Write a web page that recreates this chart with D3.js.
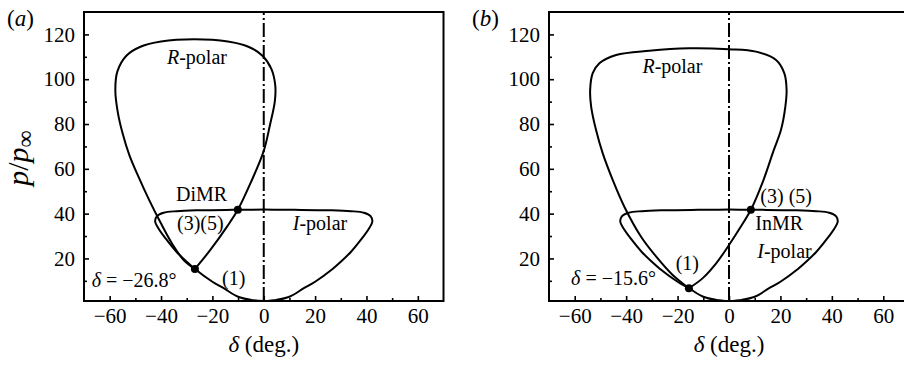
<!DOCTYPE html>
<html>
<head>
<meta charset="utf-8">
<script src="https://cdn.jsdelivr.net/npm/d3@7"></script>
<style>
  html, body { margin: 0; padding: 0; background: #fff; }
  svg { display: block; }
  text { font-family: "Liberation Serif", "Times New Roman", serif; fill: #000; }
</style>
</head>
<body>
<svg id="chart" width="904" height="365"></svg>
<script>
// Axis ticks
const deltaTicks = [-60, -40, -20, 0, 20, 40, 60];
const deltaMinorTicks = [-50, -30, -10, 10, 30, 50];
const pTicks = [20, 40, 60, 80, 100, 120];
const pMinorTicks = [10, 30, 50, 70, 90, 110];

// Incident-shock polar (delta in deg, p/p_inf), traced from the bottom, right lobe, top, left lobe
const iPolar = [
  [0, 1], [5, 1.5], [10, 2.9], [15.6, 6.7], [20, 9.6], [26.8, 15.3], [30, 18.5], [34, 23],
  [38, 28.6], [41, 33.4], [42.3, 36.5], [41.6, 38.9], [39, 40.4], [34, 41.1], [25, 41.5],
  [12, 41.7], [0, 41.8], [-12, 41.7], [-25, 41.5], [-34, 41.1], [-39, 40.4], [-41.6, 38.9],
  [-42.3, 36.5], [-41, 33.4], [-38, 28.6], [-34, 23], [-30, 18.5], [-26.8, 15.3], [-20, 9.6],
  [-15.6, 6.7], [-10, 2.9], [-5, 1.5], [0, 1]
];

// Reflected-shock polar for panel (a), starting and ending at state (1)
const rPolarA = [
  [-26.8, 15.3], [-20.8, 23.8], [-14.3, 34.2], [-10.1, 41.7], [-5.2, 53.5], [0, 68], [2.5, 80],
  [4.3, 90], [4.5, 97], [3, 104.5], [-0.5, 110.5], [-6, 114.5], [-14, 116.8], [-27, 117.8],
  [-40, 116.8], [-48, 114.5], [-53.5, 110.5], [-57, 103.5], [-57.8, 95], [-56.8, 85],
  [-55, 76], [-52.3, 66], [-48.8, 56.5], [-44.6, 46], [-40.2, 36], [-35.8, 26.8],
  [-31.2, 19.3], [-26.8, 15.3]
];

// Reflected-shock polar for panel (b)
const rPolarB = [
  [-15.6, 6.7], [-10.3, 11.1], [-5, 17.8], [0, 26], [4.5, 34], [8.5, 41.7], [13.4, 55],
  [17.3, 68], [20.2, 77.3], [21.9, 87.7], [22.4, 95.2], [21.5, 102.7], [18.3, 108.6],
  [10.5, 112.3], [0, 113.4], [-15.6, 113.8], [-31, 112.7], [-43.9, 110.8], [-50.4, 107.1],
  [-53, 102.7], [-54, 95.2], [-53.6, 87.7], [-51.7, 77.3], [-49.1, 66.9], [-45.2, 55],
  [-40.7, 43.1], [-34.2, 29.7], [-28.3, 20.8], [-21.9, 12.6], [-15.6, 6.7]
];

// Marked states
const pointsA = [[-26.8, 15.3], [-10.1, 41.7]];
const pointsB = [[-15.6, 6.7], [8.5, 41.7]];

const panels = [
  {
    tag: "a", x0: 84, x1: 443.5, rPolar: rPolarA, points: pointsA,
    labels: [
      { d: -26, p: 106.8, anchor: "middle", parts: [["R", true], ["-polar", false]] },
      { d: -24.2, p: 45.6, anchor: "middle", parts: [["DiMR", false]] },
      { d: -24.7, p: 32.7, anchor: "middle", parts: [["(3)(5)", false]] },
      { d: -67, p: 7.3, anchor: "start", parts: [["δ", true], [" = −26.8°", false]] },
      { d: -11.7, p: 8.1, anchor: "middle", parts: [["(1)", false]] },
      { d: 11.3, p: 32.7, anchor: "start", parts: [["I", true], ["-polar", false]] }
    ]
  },
  {
    tag: "b", x0: 549, x1: 909, rPolar: rPolarB, points: pointsB,
    labels: [
      { d: -22, p: 102.7, anchor: "middle", parts: [["R", true], ["-polar", false]] },
      { d: -16.2, p: 14.8, anchor: "middle", parts: [["(1)", false]] },
      { d: -61.4, p: 8.1, anchor: "start", parts: [["δ", true], [" = −15.6°", false]] },
      { d: 12.2, p: 44.8, anchor: "start", parts: [["(3) (5)", false]] },
      { d: 10.2, p: 32.7, anchor: "start", parts: [["InMR", false]] },
      { d: 11, p: 20.2, anchor: "start", parts: [["I", true], ["-polar", false]] }
    ]
  }
];

const svg = d3.select("#chart");
svg.append("rect").attr("width", 904).attr("height", 365).attr("fill", "#fff");

const yTop = 12, yBottom = 301;
const fmt = d => (d < 0 ? "\u2212" + Math.abs(d) : String(d));

panels.forEach(pn => {
  const x = d3.scaleLinear().domain([-70, 70]).range([pn.x0, pn.x1]);
  const y = d3.scaleLinear().domain([1, 130]).range([yBottom, yTop]);
  const g = svg.append("g");

  // Frame
  g.append("rect")
    .attr("x", pn.x0).attr("y", yTop)
    .attr("width", pn.x1 - pn.x0).attr("height", yBottom - yTop)
    .attr("fill", "none").attr("stroke", "#000").attr("stroke-width", 2);

  // Bottom axis: inward ticks
  const xAxis = d3.axisBottom(x).tickValues(deltaTicks).tickFormat(fmt)
    .tickSizeInner(-5).tickSizeOuter(0).tickPadding(7);
  const gx = g.append("g").attr("transform", `translate(0,${yBottom})`).call(xAxis);
  gx.select(".domain").remove();
  gx.selectAll(".tick line").attr("stroke-width", 1.6);
  gx.selectAll(".tick text").attr("font-size", 21).attr("font-family", "Liberation Serif");
  g.append("g").attr("transform", `translate(0,${yBottom})`)
    .call(d3.axisBottom(x).tickValues(deltaMinorTicks).tickFormat("").tickSizeInner(-3).tickSizeOuter(0))
    .call(s => s.select(".domain").remove())
    .selectAll(".tick line").attr("stroke-width", 1.6);

  // Left axis: inward ticks
  const yAxis = d3.axisLeft(y).tickValues(pTicks).tickFormat(d3.format("d"))
    .tickSizeInner(-5).tickSizeOuter(0).tickPadding(9);
  const gy = g.append("g").attr("transform", `translate(${pn.x0},0)`).call(yAxis);
  gy.select(".domain").remove();
  gy.selectAll(".tick line").attr("stroke-width", 1.6);
  gy.selectAll(".tick text").attr("font-size", 21).attr("font-family", "Liberation Serif");
  g.append("g").attr("transform", `translate(${pn.x0},0)`)
    .call(d3.axisLeft(y).tickValues(pMinorTicks).tickFormat("").tickSizeInner(-3).tickSizeOuter(0))
    .call(s => s.select(".domain").remove())
    .selectAll(".tick line").attr("stroke-width", 1.6);

  // Zero-deflection dash-dot line
  g.append("line")
    .attr("x1", x(0)).attr("x2", x(0)).attr("y1", yBottom).attr("y2", yTop)
    .attr("stroke", "#000").attr("stroke-width", 2)
    .attr("stroke-dasharray", "14,3,2,3");

  const line = d3.line().x(d => x(d[0])).y(d => y(d[1])).curve(d3.curveCatmullRom.alpha(0.5));

  g.append("path").attr("d", line(iPolar))
    .attr("fill", "none").attr("stroke", "#000").attr("stroke-width", 2);
  g.append("path").attr("d", line(pn.rPolar))
    .attr("fill", "none").attr("stroke", "#000").attr("stroke-width", 2);

  g.selectAll("circle.state").data(pn.points).join("circle")
    .attr("class", "state")
    .attr("cx", d => x(d[0])).attr("cy", d => y(d[1])).attr("r", 4).attr("fill", "#000");

  // Annotations
  pn.labels.forEach(lb => {
    const t = g.append("text")
      .attr("x", x(lb.d)).attr("y", y(lb.p))
      .attr("text-anchor", lb.anchor).attr("font-size", 20);
    lb.parts.forEach(([s, it]) => {
      t.append("tspan").text(s).attr("font-style", it ? "italic" : "normal");
    });
  });

  // Axis title
  const xt = g.append("text")
    .attr("x", x(0)).attr("y", 352).attr("text-anchor", "middle").attr("font-size", 23);
  xt.append("tspan").text("δ").attr("font-style", "italic");
  xt.append("tspan").text(" (deg.)");

  // Panel tag
  const tg = svg.append("text").attr("x", pn.x0 - 77).attr("y", 26).attr("font-size", 23);
  tg.append("tspan").text("(");
  tg.append("tspan").text(pn.tag).attr("font-style", "italic");
  tg.append("tspan").text(")");
});

// Vertical axis title for panel (a)
const yl = svg.append("text")
  .attr("transform", "translate(28,158) rotate(-90)")
  .attr("text-anchor", "middle").attr("font-size", 30);
yl.append("tspan").text("p").attr("font-style", "italic");
yl.append("tspan").text("/");
yl.append("tspan").text("p").attr("font-style", "italic");
yl.append("tspan").text("∞").attr("font-size", 24).attr("dy", 5);
</script>
</body>
</html>
